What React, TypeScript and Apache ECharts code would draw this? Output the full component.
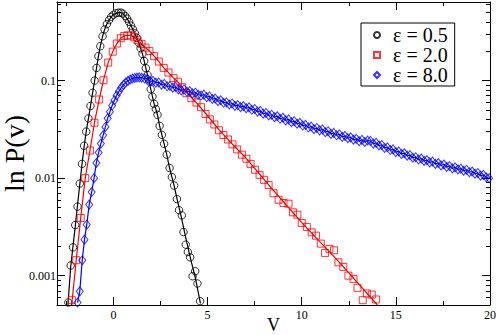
import React, { useEffect, useRef } from "react";
import * as echarts from "echarts";

const SERIF = "Liberation Serif";

const seriesNames = ["ε = 0.5", "ε = 2.0", "ε = 8.0"];
const xMajorTicks = [0, 5, 10, 15, 20];
const xMinorTicks = [-2.5, 2.5, 7.5, 12.5, 17.5];
const yMajorTicks = [0.001, 0.01, 0.1];
const yMinorTicks = [
  0.0006, 0.0007, 0.0008, 0.0009,
  0.002, 0.003, 0.004, 0.005, 0.006, 0.007, 0.008, 0.009,
  0.02, 0.03, 0.04, 0.05, 0.06, 0.07, 0.08, 0.09,
  0.2, 0.3, 0.4, 0.5, 0.6,
];

// eps = 0.5 (black circles): [v, P(v)]
const blackPoints: [number, number][] = [
  [-2.4, 0.00053], [-2.27, 0.00127], [-2.15, 0.00195], [-2.03, 0.0033], [-1.91, 0.0051],
  [-1.79, 0.0088], [-1.67, 0.014], [-1.56, 0.0215], [-1.45, 0.03], [-1.33, 0.041],
  [-1.22, 0.055], [-1.11, 0.075], [-1.0, 0.1], [-0.9, 0.135], [-0.8, 0.178],
  [-0.7, 0.225], [-0.58, 0.285], [-0.47, 0.335], [-0.35, 0.38], [-0.23, 0.418],
  [-0.12, 0.452], [0.0, 0.474], [0.13, 0.49], [0.27, 0.497], [0.39, 0.498],
  [0.5, 0.487], [0.62, 0.46], [0.72, 0.432], [0.83, 0.4], [0.93, 0.366],
  [1.03, 0.336], [1.14, 0.305], [1.24, 0.275], [1.34, 0.245], [1.44, 0.215],
  [1.54, 0.188], [1.63, 0.159], [1.72, 0.134], [1.81, 0.114], [1.9, 0.098],
  [1.98, 0.0816], [2.07, 0.0686], [2.16, 0.0578], [2.25, 0.051], [2.34, 0.0446],
  [2.45, 0.0343], [2.57, 0.0278], [2.69, 0.0225], [2.83, 0.0174], [2.98, 0.0127],
  [3.1, 0.01025], [3.22, 0.0084], [3.37, 0.0061], [3.48, 0.0047], [3.63, 0.00415],
  [3.72, 0.0028], [3.84, 0.00208], [3.95, 0.00175], [4.07, 0.00154], [4.2, 0.000986],
  [4.34, 0.00111], [4.46, 0.00083], [4.6, 0.000547],
];
const blackCurve: [number, number][] = [
  [-2.42, 0.0005], [-2.27, 0.00125], [-2.15, 0.002], [-2.03, 0.0032], [-1.91, 0.0053],
  [-1.79, 0.0086], [-1.67, 0.014], [-1.56, 0.021], [-1.45, 0.03], [-1.33, 0.041],
  [-1.22, 0.055], [-1.11, 0.075], [-1.0, 0.1], [-0.9, 0.135], [-0.8, 0.178],
  [-0.7, 0.225], [-0.58, 0.285], [-0.47, 0.335], [-0.35, 0.38], [-0.23, 0.418],
  [-0.12, 0.452], [0.0, 0.474], [0.13, 0.49], [0.27, 0.497], [0.39, 0.498],
  [0.5, 0.487], [0.62, 0.46], [0.72, 0.432], [0.83, 0.4], [0.93, 0.366],
  [1.03, 0.336], [1.14, 0.305], [1.24, 0.275], [1.34, 0.245], [1.44, 0.215],
  [1.54, 0.188], [1.63, 0.159], [1.72, 0.134], [1.81, 0.114], [1.9, 0.098],
  [1.98, 0.0816], [2.07, 0.0686], [2.16, 0.0578], [2.25, 0.051], [2.34, 0.0446],
  [2.45, 0.0343], [2.57, 0.0278], [2.69, 0.0225], [2.83, 0.0174], [2.98, 0.0127],
  [3.1, 0.0103], [3.22, 0.0084], [3.37, 0.0062], [3.6, 0.004], [3.85, 0.0024],
  [4.1, 0.00148], [4.35, 0.00095], [4.62, 0.00052],
];

// eps = 2.0 (red squares)
const redPoints: [number, number][] = [
  [-2.21, 0.00056], [-1.98, 0.00144], [-1.74, 0.0039], [-1.5, 0.01], [-1.25, 0.0192],
  [-1.01, 0.037], [-0.76, 0.064], [-0.53, 0.101], [-0.28, 0.153], [-0.04, 0.198],
  [0.18, 0.24], [0.39, 0.272], [0.57, 0.287], [0.74, 0.291], [0.92, 0.29],
  [1.1, 0.278], [1.28, 0.26], [1.49, 0.238], [1.7, 0.218], [1.91, 0.201],
  [2.16, 0.178], [2.41, 0.157], [2.67, 0.135], [2.92, 0.121], [3.19, 0.106],
  [3.43, 0.0975], [3.65, 0.0856], [3.88, 0.0743], [4.14, 0.066], [4.41, 0.0596],
  [4.65, 0.0534], [4.89, 0.0455], [5.12, 0.04], [5.36, 0.0355], [5.6, 0.031],
  [5.84, 0.0277], [6.08, 0.0249], [6.32, 0.0222], [6.57, 0.0197], [6.82, 0.0174],
  [7.06, 0.0158], [7.28, 0.014], [7.52, 0.0122], [7.76, 0.0108], [8.0, 0.0096],
  [8.24, 0.0085], [8.5, 0.007], [8.77, 0.006], [9.03, 0.00556], [9.3, 0.00547],
  [9.53, 0.00446], [9.77, 0.00422], [10.0, 0.00347], [10.27, 0.00316], [10.53, 0.00278],
  [10.76, 0.00257], [11.01, 0.00213], [11.24, 0.00171], [11.47, 0.00188], [11.72, 0.00182],
  [11.95, 0.00137], [12.21, 0.00123], [12.48, 0.001], [12.75, 0.000926], [12.96, 0.00075],
  [13.24, 0.00056], [13.46, 0.000656], [13.72, 0.00064], [13.95, 0.00057],
];
const redCurve: [number, number][] = [
  [-2.22, 0.0005], [-1.98, 0.00144], [-1.74, 0.0039], [-1.5, 0.01], [-1.25, 0.0192],
  [-1.01, 0.037], [-0.76, 0.064], [-0.53, 0.101], [-0.28, 0.153], [-0.04, 0.198],
  [0.18, 0.24], [0.39, 0.272], [0.57, 0.287], [0.74, 0.291], [0.92, 0.29],
  [1.1, 0.278], [1.28, 0.26], [1.49, 0.238], [1.7, 0.218], [1.91, 0.201],
  [2.16, 0.178], [2.41, 0.157], [2.67, 0.135], [2.92, 0.121], [3.19, 0.106],
  [3.45, 0.0955], [3.88, 0.0755], [4.4, 0.0595], [4.9, 0.046], [5.6, 0.0315],
  [6.3, 0.0225], [7.1, 0.0156], [8.3, 0.0083], [10.0, 0.0035], [12.0, 0.00137],
  [14.02, 0.0005],
];

// eps = 8.0 (blue diamonds)
const bluePoints: [number, number][] = [
  [-1.91, 0.00053], [-1.79, 0.00069], [-1.66, 0.00144], [-1.54, 0.00234], [-1.42, 0.00333],
  [-1.29, 0.00535], [-1.16, 0.0072], [-1.03, 0.01], [-0.91, 0.0143], [-0.79, 0.0183],
  [-0.67, 0.0226], [-0.55, 0.0275], [-0.43, 0.0335], [-0.31, 0.041], [-0.19, 0.048],
  [-0.07, 0.0555], [0.05, 0.063], [0.17, 0.0705], [0.29, 0.0775], [0.41, 0.0845],
  [0.53, 0.0905], [0.65, 0.0955], [0.77, 0.0995], [0.89, 0.1025], [1.01, 0.105],
  [1.13, 0.1065], [1.25, 0.1075], [1.37, 0.108], [1.5, 0.107], [1.65, 0.105],
  [1.8, 0.1045], [1.95, 0.0985], [2.1, 0.0995], [2.25, 0.0952], [2.4, 0.0958],
  [2.55, 0.0908], [2.7, 0.0925], [2.85, 0.0874], [3.0, 0.0883], [3.15, 0.0846],
  [3.3, 0.0861], [3.45, 0.0812], [3.6, 0.0795], [3.75, 0.0813], [3.9, 0.0768],
  [4.05, 0.0781], [4.2, 0.0739], [4.35, 0.0752], [4.5, 0.0716], [4.65, 0.0703],
  [4.8, 0.0718], [4.95, 0.0677], [5.1, 0.0689], [5.25, 0.0648], [5.4, 0.0655],
  [5.55, 0.0615], [5.7, 0.0628], [5.85, 0.0592], [6.0, 0.0598], [6.15, 0.0569],
  [6.3, 0.0583], [6.45, 0.0551], [6.6, 0.0561], [6.75, 0.0535], [6.9, 0.0547],
  [7.05, 0.0521], [7.2, 0.0532], [7.35, 0.0502], [7.5, 0.0512], [7.65, 0.0481],
  [7.8, 0.0489], [7.95, 0.0458], [8.1, 0.0466], [8.25, 0.0439], [8.4, 0.0447],
  [8.55, 0.0422], [8.7, 0.0431], [8.85, 0.0406], [9.0, 0.0416], [9.15, 0.0391],
  [9.3, 0.04], [9.45, 0.0374], [9.6, 0.0384], [9.75, 0.0361], [9.9, 0.0369],
  [10.05, 0.0346], [10.2, 0.0352], [10.35, 0.033], [10.5, 0.0338], [10.65, 0.0318],
  [10.8, 0.0327], [10.95, 0.0309], [11.1, 0.0316], [11.25, 0.0296], [11.4, 0.0303],
  [11.55, 0.0284], [11.7, 0.0291], [11.85, 0.0275], [12.0, 0.0281], [12.15, 0.0265],
  [12.3, 0.0271], [12.45, 0.0257], [12.6, 0.0262], [12.75, 0.0248], [12.9, 0.0253],
  [13.05, 0.0239], [13.2, 0.0247], [13.35, 0.0235], [13.5, 0.0243], [13.65, 0.0241],
  [13.8, 0.0226], [13.95, 0.023], [14.1, 0.0216], [14.25, 0.0219], [14.4, 0.0204],
  [14.55, 0.0207], [14.7, 0.0194], [14.85, 0.0197], [15.0, 0.0185], [15.15, 0.0188],
  [15.3, 0.0177], [15.45, 0.018], [15.6, 0.017], [15.75, 0.0172], [15.9, 0.0162],
  [16.05, 0.0164], [16.2, 0.0155], [16.35, 0.0159], [16.5, 0.015], [16.65, 0.0153],
  [16.8, 0.0145], [16.95, 0.0148], [17.1, 0.014], [17.25, 0.0143], [17.4, 0.0135],
  [17.55, 0.0138], [17.7, 0.013], [17.85, 0.0133], [18.0, 0.0126], [18.15, 0.0129],
  [18.3, 0.0123], [18.45, 0.0125], [18.6, 0.0119], [18.75, 0.0122], [18.9, 0.0115],
  [19.05, 0.0117], [19.2, 0.0111], [19.35, 0.0113], [19.5, 0.0106], [19.65, 0.0108],
  [19.8, 0.0102], [19.95, 0.01],
];

const BLACK = "#000000";
const RED = "#ff0000";
const BLUE = "#0000ff";

export default function App() {
  const ref = useRef<HTMLDivElement>(null);
  useEffect(() => {
    if (!ref.current) return;
    const chart = echarts.init(ref.current, undefined, { renderer: "svg" });
    const axisLine = { show: true, onZero: false, lineStyle: { color: "#000", width: 1 } };
    const noLine = { show: false, onZero: false };
    const X_MIN = -3, X_MAX = 20, Y_MIN = 0.0005, Y_MAX = 0.64;
    const xBase = { type: "value", min: X_MIN, max: X_MAX, splitLine: { show: false } };
    const yBase = { type: "log", logBase: 10, min: Y_MIN, max: Y_MAX, splitLine: { show: false } };
    const hiddenLabel = { show: false };
    const fmtY = (v: number) => String(Number(v.toPrecision(1)));
    const tick = (len: number, values: number[]) => ({
      show: true, inside: true, length: len, customValues: values, lineStyle: { color: "#000", width: 1 },
    });

    const lineSeries = (data: [number, number][], color: string) => ({
      type: "line",
      data,
      xAxisIndex: 0,
      yAxisIndex: 0,
      symbol: "none",
      lineStyle: { color, width: 1.2 },
      silent: true,
      z: 2,
    });
    const markSeries = (name: string, data: [number, number][], symbol: string, size: number | number[], color: string) => ({
      type: "scatter",
      name,
      data,
      xAxisIndex: 0,
      yAxisIndex: 0,
      symbol,
      symbolSize: size,
      itemStyle: { color: "transparent", borderColor: color, borderWidth: 1 },
      z: 3,
    });

    chart.setOption({
      animation: false,
      backgroundColor: "#ffffff",
      grid: { left: 57, top: 2, width: 433, height: 303, containLabel: false, outerBoundsMode: "none" },
      xAxis: [
        {
          ...xBase,
          position: "bottom",
          axisLine,
          axisTick: tick(8, xMajorTicks),
          axisLabel: { customValues: xMajorTicks, fontFamily: SERIF, fontSize: 12, color: "#000", margin: 4 },
          name: "V",
          nameLocation: "middle",
          nameGap: 11,
          nameMoveOverlap: false,
          nameTextStyle: { fontFamily: SERIF, fontSize: 18, color: "#000", verticalAlign: "top" },
        },
        { ...xBase, position: "bottom", axisLine: noLine, axisTick: tick(4, xMinorTicks), axisLabel: hiddenLabel },
        { ...xBase, position: "top", axisLine, axisTick: tick(8, xMajorTicks), axisLabel: hiddenLabel },
        { ...xBase, position: "top", axisLine: noLine, axisTick: tick(4, xMinorTicks), axisLabel: hiddenLabel },
      ],
      yAxis: [
        {
          ...yBase,
          position: "left",
          axisLine,
          axisTick: tick(8, yMajorTicks),
          axisLabel: { customValues: yMajorTicks, formatter: fmtY, fontFamily: SERIF, fontSize: 12, color: "#000", margin: 1 },
          name: "ln P(v)",
          nameLocation: "middle",
          nameRotate: 90,
          nameGap: 29,
          nameMoveOverlap: false,
          nameTextStyle: { fontFamily: SERIF, fontSize: 28, color: "#000" },
        },
        { ...yBase, position: "left", axisLine: noLine, axisTick: tick(4, yMinorTicks), axisLabel: hiddenLabel },
        { ...yBase, position: "right", axisLine, axisTick: tick(8, yMajorTicks), axisLabel: hiddenLabel },
        { ...yBase, position: "right", axisLine: noLine, axisTick: tick(4, yMinorTicks), axisLabel: hiddenLabel },
      ],
      legend: {
        orient: "vertical",
        left: 361,
        top: 23,
        padding: [2, 7, 1, 12],
        itemGap: 0,
        itemWidth: 6,
        itemHeight: 6,
        borderColor: "#000",
        borderWidth: 1,
        backgroundColor: "#fff",
        textStyle: { fontFamily: SERIF, fontSize: 20, color: "#000", lineHeight: 19.5, padding: [0, 0, 0, 8] },
        data: [
          { name: seriesNames[0], icon: "circle" },
          { name: seriesNames[1], icon: "rect" },
          { name: seriesNames[2], icon: "diamond" },
        ],
      },
      series: [
        lineSeries(blackCurve, BLACK),
        lineSeries(redCurve, RED),
        lineSeries(bluePoints, BLUE),
        markSeries(seriesNames[0], blackPoints, "circle", 7.5, BLACK),
        markSeries(seriesNames[1], redPoints, "rect", 7, RED),
        markSeries(seriesNames[2], bluePoints, "diamond", [7, 9], BLUE),
      ],
    });
    return () => chart.dispose();
  }, []);
  return <div ref={ref} style={{ width: 498, height: 335, position: "absolute", left: 0, top: 0 }} />;
}
